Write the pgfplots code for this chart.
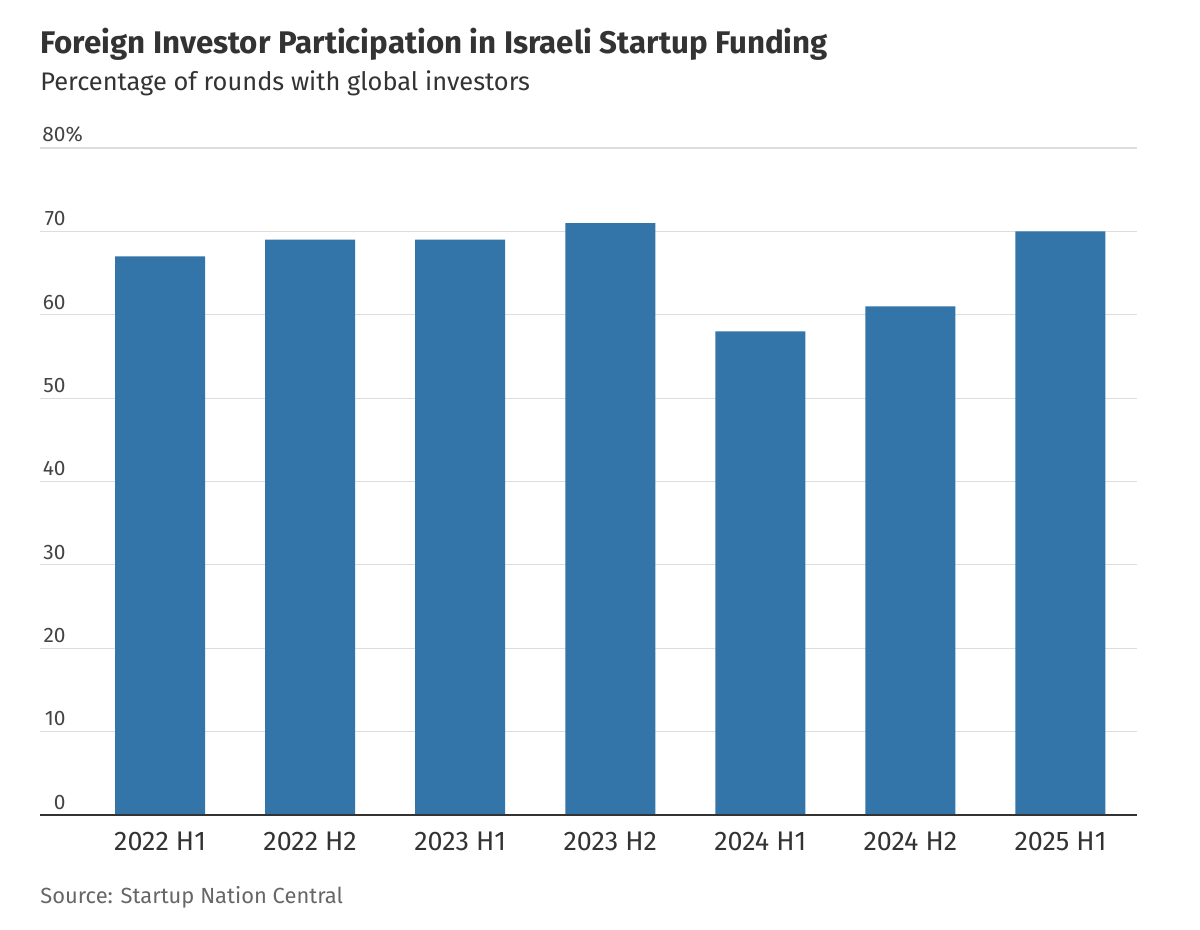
\documentclass[border=0pt]{standalone}
\usepackage{fontspec}
\setmainfont{Fira Sans}
\usepackage{pgfplots}
\pgfplotsset{compat=1.18}
\definecolor{barblue}{HTML}{3375A9}
\definecolor{gridgray}{HTML}{DDDDDD}
\definecolor{txt}{HTML}{333333}
\definecolor{ticktxt}{HTML}{444444}
\definecolor{srctxt}{HTML}{666666}
\begin{document}
\begin{tikzpicture}
\path[use as bounding box] (-20bp,-57.5bp) rectangle (580bp,407.5bp);
\node[anchor=base west, inner sep=0, text=txt, font=\fontsize{15.7}{17}\selectfont\bfseries] at (0,380.5bp) {Foreign Investor Participation in Israeli Startup Funding};
\node[anchor=base west, inner sep=0, text=txt, font=\fontsize{12.75}{14}\selectfont] at (0,362bp) {Percentage of rounds with global investors};
\node[anchor=base west, inner sep=0, text=srctxt, font=\fontsize{11}{13}\selectfont] at (0,-44bp) {Source: Startup Nation Central};
\begin{axis}[
  at={(0,0)}, anchor=south west,
  scale only axis, width=548.5bp, height=333.5bp,
  xmin=-0.8, xmax=6.51, ymin=0, ymax=80,
  axis x line*=bottom, axis y line*=left,
  x axis line style={draw=none}, y axis line style={draw=none},
  ymajorgrids, grid style={gridgray, line width=0.6bp},
  major tick length=0pt,
  ytick={0,10,...,80}, yticklabels={0,10,20,30,40,50,60,70,80\rlap{\%}},
  yticklabel style={anchor=south east, xshift=15.5bp, inner sep=2.5bp, text=ticktxt, font=\fontsize{10.5}{12}\selectfont},
  xtick={0,...,6}, xticklabels={2022 H1,2022 H2,2023 H1,2023 H2,2024 H1,2024 H2,2025 H1},
  xticklabel style={text=txt, font=\fontsize{13.5}{15}\selectfont, yshift=-5bp},
  ybar, bar width=45bp,
  clip=false,
]
\addplot[fill=barblue, draw=none] coordinates {(0,67) (1,69) (2,69) (3,71) (4,58) (5,61) (6,70)};
\draw[line width=1bp, color=txt] (axis cs:-0.8,0) -- (axis cs:6.51,0);
\end{axis}
\end{tikzpicture}
\end{document}
